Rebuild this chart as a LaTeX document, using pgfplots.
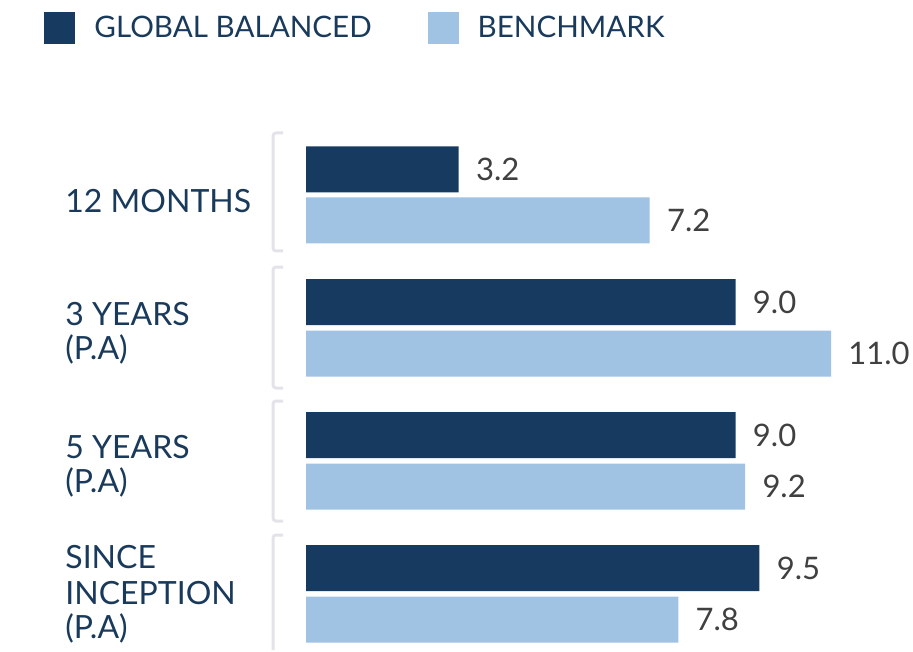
\documentclass[border=0pt]{standalone}
\usepackage{fontspec}
\setmainfont{Lato}
\usepackage{pgfplots}
\pgfplotsset{compat=1.18}
\definecolor{navy}{HTML}{173A60}
\definecolor{legnavy}{HTML}{1F4466}
\definecolor{lightblue}{HTML}{A0C2E3}
\definecolor{labelc}{HTML}{1A3A5C}
\definecolor{valc}{HTML}{404040}
\definecolor{brk}{HTML}{E3E4EA}
\begin{document}
\begin{tikzpicture}
\begin{axis}[
  width=456.5pt, height=325pt, scale only axis, hide axis, clip=false,
  xmin=-6.4114, xmax=12.7181, ymin=0, ymax=650, y dir=reverse,
  point meta=x,
  /pgf/number format/assume math mode=true,
  nodes near coords={\pgfmathprintnumber[fixed,fixed zerofill,precision=1,assume math mode=true]{\pgfplotspointmeta}},
  nodes near coords style={anchor=west, inner sep=0pt, xshift=8.5pt, font=\fontsize{15.5}{18}\selectfont, text=valc},
  legend image code/.code={\fill[#1] (0pt,-8pt) rectangle (15.5pt,8pt); \path[draw=none,fill=none] (0pt,0pt) rectangle (25pt,0.1pt);},
  legend style={at={(axis cs:-5.4895,28)}, anchor=west, draw=none, fill=none, inner sep=0pt,
    legend columns=2, font=\fontsize{14.8}{18}\selectfont, text=labelc,
    nodes={inner sep=0pt},
    /tikz/every even column/.append style={column sep=28pt}},
]
\addplot[xbar, bar width=23pt, bar shift=0pt, fill=navy, draw=none] coordinates {(3.2,169.5) (9.0,302) (9.0,435) (9.5,568)};
\addlegendentry{GLOBAL BALANCED}
\addplot[xbar, bar width=23pt, bar shift=0pt, fill=lightblue, draw=none] coordinates {(7.2,220.5) (11.0,353.5) (9.2,486.5) (7.8,619.5)};
\addlegendentry{BENCHMARK}
% brackets
\begin{scope}[brk, line width=1.5pt, rounded corners=1.5pt]
\draw (axis cs:-0.4819,133) -- (axis cs:-0.6914,133) -- (axis cs:-0.6914,251) -- (axis cs:-0.4819,251);
\draw (axis cs:-0.4819,267) -- (axis cs:-0.6914,267) -- (axis cs:-0.6914,388) -- (axis cs:-0.4819,388);
\draw (axis cs:-0.4819,401) -- (axis cs:-0.6914,401) -- (axis cs:-0.6914,521) -- (axis cs:-0.4819,521);
\draw (axis cs:-0.4819,535) -- (axis cs:-0.6914,535) -- (axis cs:-0.6914,650);
\end{scope}
% category labels
\begin{scope}[every node/.style={anchor=base west, inner sep=0pt, text=labelc, font=\fontsize{16}{18}\selectfont}]
\node at (axis cs:-5.0496,213) {12 MONTHS};
\node at (axis cs:-5.0496,325) {3 YEARS};
\node at (axis cs:-5.0496,359) {(P.A)};
\node at (axis cs:-5.0496,458) {5 YEARS};
\node at (axis cs:-5.0496,492) {(P.A)};
\node at (axis cs:-5.0496,568) {SINCE};
\node at (axis cs:-5.0496,604) {INCEPTION};
\node at (axis cs:-5.0496,638) {(P.A)};
\end{scope}
\path (rel axis cs:0,0) rectangle (rel axis cs:1,1);
\end{axis}
\end{tikzpicture}
\end{document}
